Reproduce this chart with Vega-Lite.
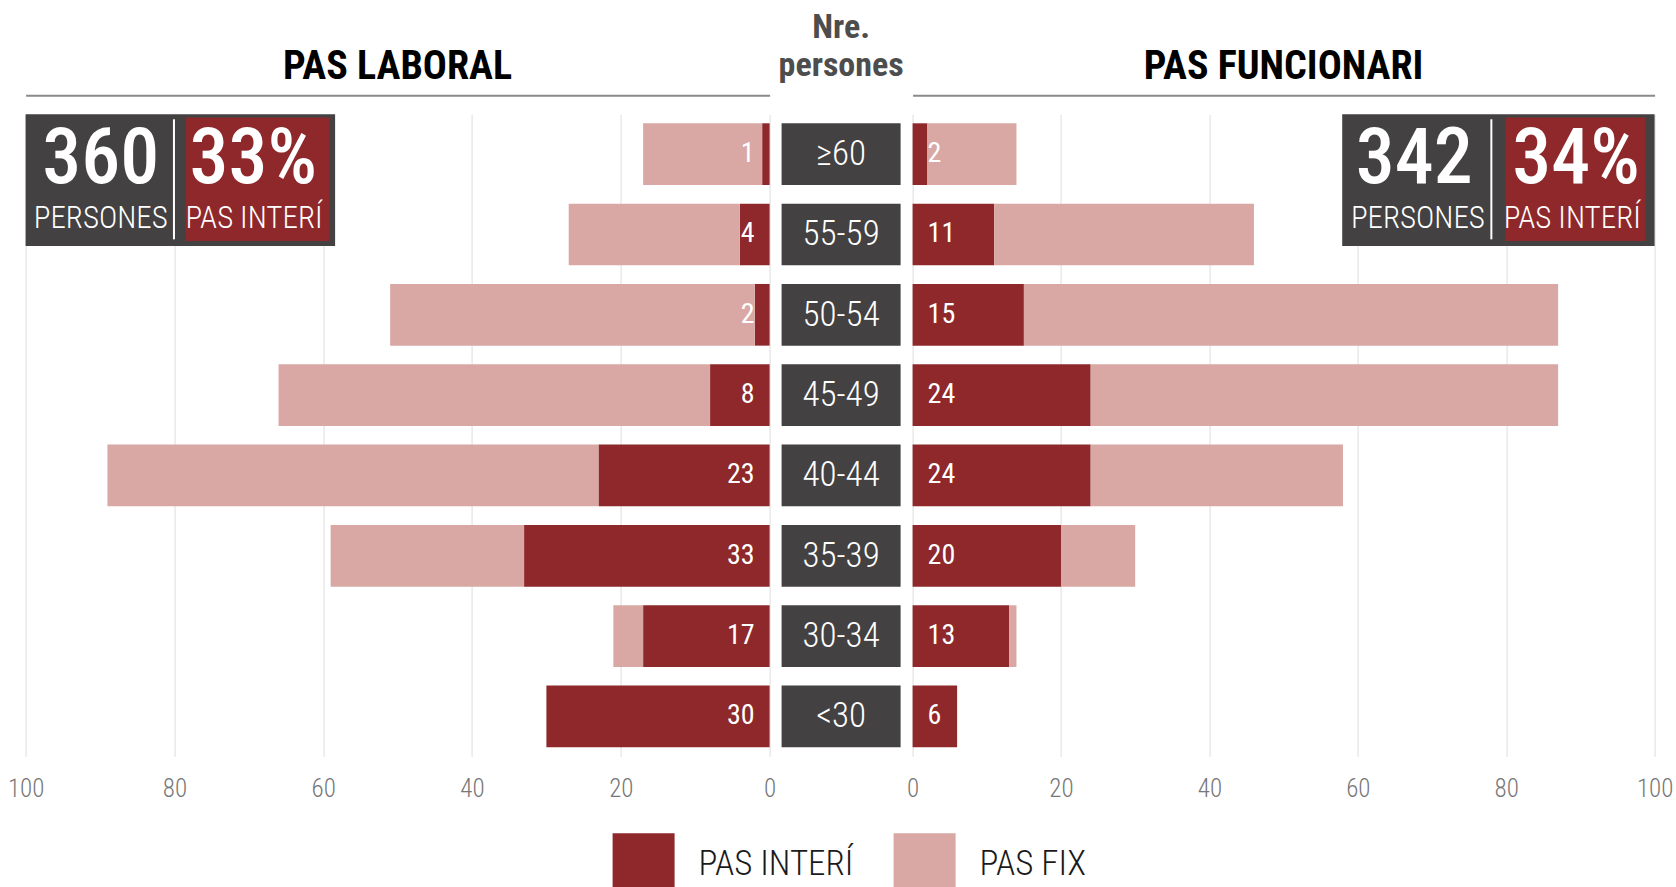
{
  "$schema": "https://vega.github.io/schema/vega-lite/v6.json",
  "background": "white",
  "padding": {"left": 6.6, "top": 10.3, "right": 0, "bottom": 0},
  "bounds": "flush",
  "spacing": 12,
  "datasets": {
    "dades": [
      {"grup": "PAS LABORAL", "edat": "≥60", "tipus": "PAS INTERÍ", "n": 1},
      {"grup": "PAS LABORAL", "edat": "≥60", "tipus": "PAS FIX", "n": 16},
      {"grup": "PAS LABORAL", "edat": "55-59", "tipus": "PAS INTERÍ", "n": 4},
      {"grup": "PAS LABORAL", "edat": "55-59", "tipus": "PAS FIX", "n": 23},
      {"grup": "PAS LABORAL", "edat": "50-54", "tipus": "PAS INTERÍ", "n": 2},
      {"grup": "PAS LABORAL", "edat": "50-54", "tipus": "PAS FIX", "n": 49},
      {"grup": "PAS LABORAL", "edat": "45-49", "tipus": "PAS INTERÍ", "n": 8},
      {"grup": "PAS LABORAL", "edat": "45-49", "tipus": "PAS FIX", "n": 58},
      {"grup": "PAS LABORAL", "edat": "40-44", "tipus": "PAS INTERÍ", "n": 23},
      {"grup": "PAS LABORAL", "edat": "40-44", "tipus": "PAS FIX", "n": 66},
      {"grup": "PAS LABORAL", "edat": "35-39", "tipus": "PAS INTERÍ", "n": 33},
      {"grup": "PAS LABORAL", "edat": "35-39", "tipus": "PAS FIX", "n": 26},
      {"grup": "PAS LABORAL", "edat": "30-34", "tipus": "PAS INTERÍ", "n": 17},
      {"grup": "PAS LABORAL", "edat": "30-34", "tipus": "PAS FIX", "n": 4},
      {"grup": "PAS LABORAL", "edat": "<30", "tipus": "PAS INTERÍ", "n": 30},
      {"grup": "PAS LABORAL", "edat": "<30", "tipus": "PAS FIX", "n": 0},
      {"grup": "PAS FUNCIONARI", "edat": "≥60", "tipus": "PAS INTERÍ", "n": 2},
      {"grup": "PAS FUNCIONARI", "edat": "≥60", "tipus": "PAS FIX", "n": 12},
      {"grup": "PAS FUNCIONARI", "edat": "55-59", "tipus": "PAS INTERÍ", "n": 11},
      {"grup": "PAS FUNCIONARI", "edat": "55-59", "tipus": "PAS FIX", "n": 35},
      {"grup": "PAS FUNCIONARI", "edat": "50-54", "tipus": "PAS INTERÍ", "n": 15},
      {"grup": "PAS FUNCIONARI", "edat": "50-54", "tipus": "PAS FIX", "n": 72},
      {"grup": "PAS FUNCIONARI", "edat": "45-49", "tipus": "PAS INTERÍ", "n": 24},
      {"grup": "PAS FUNCIONARI", "edat": "45-49", "tipus": "PAS FIX", "n": 63},
      {"grup": "PAS FUNCIONARI", "edat": "40-44", "tipus": "PAS INTERÍ", "n": 24},
      {"grup": "PAS FUNCIONARI", "edat": "40-44", "tipus": "PAS FIX", "n": 34},
      {"grup": "PAS FUNCIONARI", "edat": "35-39", "tipus": "PAS INTERÍ", "n": 20},
      {"grup": "PAS FUNCIONARI", "edat": "35-39", "tipus": "PAS FIX", "n": 10},
      {"grup": "PAS FUNCIONARI", "edat": "30-34", "tipus": "PAS INTERÍ", "n": 13},
      {"grup": "PAS FUNCIONARI", "edat": "30-34", "tipus": "PAS FIX", "n": 1},
      {"grup": "PAS FUNCIONARI", "edat": "<30", "tipus": "PAS INTERÍ", "n": 6},
      {"grup": "PAS FUNCIONARI", "edat": "<30", "tipus": "PAS FIX", "n": 0}
    ],
    "resum": [
      {"grup": "PAS LABORAL", "persones": 360, "pct": "33%"},
      {"grup": "PAS FUNCIONARI", "persones": 342, "pct": "34%"}
    ]
  },
  "hconcat": [
    {
      "width": 744,
      "height": 642,
      "title": {"text": "PAS LABORAL", "fontSize": 40, "fontWeight": "bold", "color": "#000000", "anchor": "middle", "frame": "group", "baseline": "bottom", "offset": -31.4},
      "layer": [
        {
          "data": {"name": "dades"},
          "transform": [{"filter": "datum.grup === 'PAS LABORAL'"}],
          "layer": [
            {
              "mark": {"type": "bar"},
              "encoding": {
                "y": {"field": "edat", "type": "nominal", "sort": ["≥60", "55-59", "50-54", "45-49", "40-44", "35-39", "30-34", "<30"], "axis": null, "scale": {"paddingInner": 0.232, "paddingOuter": 0.112}},
                "x": {"field": "n", "type": "quantitative", "stack": "zero", "scale": {"domain": [0, 100], "reverse": true, "nice": false}, "axis": {"orient": "bottom", "values": [0, 20, 40, 60, 80, 100], "grid": true, "gridColor": "#dddddd", "domain": false, "ticks": false, "labelFontSize": 25, "labelColor": "#777777", "labelPadding": 20, "labelFlush": false, "title": null, "labelFontWeight": 300}},
                "color": {"field": "tipus", "type": "nominal", "scale": {"domain": ["PAS INTERÍ", "PAS FIX"], "range": ["#8E282B", "#D9A8A4"]}, "legend": {"orient": "none", "legendX": 587, "legendY": 719, "direction": "horizontal", "title": null, "symbolType": "square", "symbolSize": 3844, "symbolStrokeWidth": 0, "symbolOpacity": 1, "labelFontSize": 35, "labelFontWeight": 300, "labelColor": "#1a1a1a", "labelOffset": 24, "columnPadding": 40, "labelLimit": 0}},
                "order": {"field": "tipus", "sort": "descending"}
              }
            },
            {
              "transform": [{"filter": "datum.tipus === 'PAS INTERÍ'"}],
              "mark": {"type": "text", "align": "right", "baseline": "middle", "dx": -15, "color": "#ffffff", "fontSize": 28, "fontWeight": 400},
              "encoding": {
                "y": {"field": "edat", "type": "nominal", "sort": ["≥60", "55-59", "50-54", "45-49", "40-44", "35-39", "30-34", "<30"]},
                "x": {"datum": 0, "type": "quantitative", "axis": {"orient": "top", "domain": true, "domainColor": "#8a8a8a", "domainWidth": 2, "labels": false, "ticks": false, "grid": false, "title": null, "offset": 19}},
                "text": {"field": "n", "type": "quantitative"}
              }
            }
          ],
          "resolve": {"axis": {"x": "independent"}}
        },
        {
          "data": {"name": "resum"},
          "transform": [{"filter": "datum.grup === 'PAS LABORAL'"}],
          "layer": [
            {
              "mark": {"type": "rect", "color": "#434142"},
              "encoding": {
                "x": {"datum": 100, "type": "quantitative", "axis": null},
                "x2": {"datum": 58.4},
                "y": {"datum": 0, "type": "quantitative", "scale": {"domain": [0, 8], "reverse": true, "nice": false, "zero": false}, "axis": null},
                "y2": {"datum": 1.64}
              }
            },
            {
              "mark": {"type": "rect", "color": "#8E282B"},
              "encoding": {
                "x": {"datum": 78.5, "type": "quantitative", "axis": null},
                "x2": {"datum": 59.1},
                "y": {"datum": 0.041, "type": "quantitative", "axis": null},
                "y2": {"datum": 1.579}
              }
            },
            {
              "mark": {"type": "rule", "color": "#ffffff", "strokeWidth": 2},
              "encoding": {
                "x": {"datum": 80.06, "type": "quantitative", "axis": null},
                "y": {"datum": 0.062, "type": "quantitative", "axis": null},
                "y2": {"datum": 1.558}
              }
            },
            {
              "mark": {"type": "text", "color": "#ffffff", "fontSize": 78, "fontWeight": 500, "align": "center", "baseline": "alphabetic"},
              "encoding": {
                "x": {"datum": 89.9, "type": "quantitative", "axis": null},
                "y": {"datum": 0.851, "type": "quantitative", "axis": null},
                "text": {"field": "persones", "type": "quantitative"}
              }
            },
            {
              "mark": {"type": "text", "color": "#ffffff", "fontSize": 31, "fontWeight": 300, "align": "center", "baseline": "alphabetic"},
              "encoding": {
                "x": {"datum": 89.9, "type": "quantitative", "axis": null},
                "y": {"datum": 1.412, "type": "quantitative", "axis": null},
                "text": {"value": "PERSONES"}
              }
            },
            {
              "mark": {"type": "text", "color": "#ffffff", "fontSize": 78, "fontWeight": 500, "align": "center", "baseline": "alphabetic"},
              "encoding": {
                "x": {"datum": 69.4, "type": "quantitative", "axis": null},
                "y": {"datum": 0.851, "type": "quantitative", "axis": null},
                "text": {"field": "pct", "type": "nominal"}
              }
            },
            {
              "mark": {"type": "text", "color": "#ffffff", "fontSize": 31, "fontWeight": 300, "align": "center", "baseline": "alphabetic"},
              "encoding": {
                "x": {"datum": 69.3, "type": "quantitative", "axis": null},
                "y": {"datum": 1.412, "type": "quantitative", "axis": null},
                "text": {"value": "PAS INTERÍ"}
              }
            }
          ]
        }
      ],
      "resolve": {"scale": {"y": "independent"}, "axis": {"x": "independent"}}
    },
    {
      "width": 119,
      "height": 642,
      "title": {"text": ["Nre.", "persones"], "fontSize": 34, "fontWeight": "bold", "color": "#4d4d4d", "anchor": "middle", "frame": "group", "baseline": "bottom", "lineHeight": 38, "offset": -2.5},
      "data": {"name": "dades"},
      "transform": [{"filter": "datum.grup === 'PAS LABORAL' && datum.tipus === 'PAS INTERÍ'"}],
      "layer": [
        {
          "mark": {"type": "rect", "color": "#434142"},
          "encoding": {
            "y": {"field": "edat", "type": "nominal", "sort": ["≥60", "55-59", "50-54", "45-49", "40-44", "35-39", "30-34", "<30"], "axis": null, "scale": {"paddingInner": 0.232, "paddingOuter": 0.112}},
            "x": {"datum": 0, "type": "quantitative", "scale": {"domain": [0, 1], "nice": false, "zero": false}, "axis": null},
            "x2": {"datum": 1}
          }
        },
        {
          "mark": {"type": "text", "color": "#ffffff", "fontSize": 35, "fontWeight": 300, "align": "center", "baseline": "middle"},
          "encoding": {
            "y": {"field": "edat", "type": "nominal", "sort": ["≥60", "55-59", "50-54", "45-49", "40-44", "35-39", "30-34", "<30"], "axis": null},
            "x": {"datum": 0.5, "type": "quantitative", "axis": null},
            "text": {"field": "edat", "type": "nominal"}
          }
        }
      ]
    },
    {
      "width": 742,
      "height": 642,
      "title": {"text": "PAS FUNCIONARI", "fontSize": 40, "fontWeight": "bold", "color": "#000000", "anchor": "middle", "frame": "group", "baseline": "bottom", "offset": -31.4},
      "layer": [
        {
          "data": {"name": "dades"},
          "transform": [{"filter": "datum.grup === 'PAS FUNCIONARI'"}],
          "layer": [
            {
              "mark": {"type": "bar"},
              "encoding": {
                "y": {"field": "edat", "type": "nominal", "sort": ["≥60", "55-59", "50-54", "45-49", "40-44", "35-39", "30-34", "<30"], "axis": null, "scale": {"paddingInner": 0.232, "paddingOuter": 0.112}},
                "x": {"field": "n", "type": "quantitative", "stack": "zero", "scale": {"domain": [0, 100], "nice": false}, "axis": {"orient": "bottom", "values": [0, 20, 40, 60, 80, 100], "grid": true, "gridColor": "#dddddd", "domain": false, "ticks": false, "labelFontSize": 25, "labelColor": "#777777", "labelPadding": 20, "labelFlush": false, "title": null, "labelFontWeight": 300}},
                "color": {"field": "tipus", "type": "nominal", "scale": {"domain": ["PAS INTERÍ", "PAS FIX"], "range": ["#8E282B", "#D9A8A4"]}, "legend": null},
                "order": {"field": "tipus", "sort": "descending"}
              }
            },
            {
              "transform": [{"filter": "datum.tipus === 'PAS INTERÍ'"}],
              "mark": {"type": "text", "align": "left", "baseline": "middle", "dx": 15, "color": "#ffffff", "fontSize": 28, "fontWeight": 400},
              "encoding": {
                "y": {"field": "edat", "type": "nominal", "sort": ["≥60", "55-59", "50-54", "45-49", "40-44", "35-39", "30-34", "<30"]},
                "x": {"datum": 0, "type": "quantitative", "axis": {"orient": "top", "domain": true, "domainColor": "#8a8a8a", "domainWidth": 2, "labels": false, "ticks": false, "grid": false, "title": null, "offset": 19}},
                "text": {"field": "n", "type": "quantitative"}
              }
            }
          ],
          "resolve": {"axis": {"x": "independent"}}
        },
        {
          "data": {"name": "resum"},
          "transform": [{"filter": "datum.grup === 'PAS FUNCIONARI'"}],
          "layer": [
            {
              "mark": {"type": "rect", "color": "#434142"},
              "encoding": {
                "x": {"datum": 57.9, "type": "quantitative", "axis": null},
                "x2": {"datum": 100},
                "y": {"datum": 0, "type": "quantitative", "scale": {"domain": [0, 8], "reverse": true, "nice": false, "zero": false}, "axis": null},
                "y2": {"datum": 1.64}
              }
            },
            {
              "mark": {"type": "rect", "color": "#8E282B"},
              "encoding": {
                "x": {"datum": 79.9, "type": "quantitative", "axis": null},
                "x2": {"datum": 98.8},
                "y": {"datum": 0.041, "type": "quantitative", "axis": null},
                "y2": {"datum": 1.579}
              }
            },
            {
              "mark": {"type": "rule", "color": "#ffffff", "strokeWidth": 2},
              "encoding": {
                "x": {"datum": 78.0, "type": "quantitative", "axis": null},
                "y": {"datum": 0.062, "type": "quantitative", "axis": null},
                "y2": {"datum": 1.558}
              }
            },
            {
              "mark": {"type": "text", "color": "#ffffff", "fontSize": 78, "fontWeight": 500, "align": "center", "baseline": "alphabetic"},
              "encoding": {
                "x": {"datum": 67.6, "type": "quantitative", "axis": null},
                "y": {"datum": 0.851, "type": "quantitative", "axis": null},
                "text": {"field": "persones", "type": "quantitative"}
              }
            },
            {
              "mark": {"type": "text", "color": "#ffffff", "fontSize": 31, "fontWeight": 300, "align": "center", "baseline": "alphabetic"},
              "encoding": {
                "x": {"datum": 68.1, "type": "quantitative", "axis": null},
                "y": {"datum": 1.412, "type": "quantitative", "axis": null},
                "text": {"value": "PERSONES"}
              }
            },
            {
              "mark": {"type": "text", "color": "#ffffff", "fontSize": 78, "fontWeight": 500, "align": "center", "baseline": "alphabetic"},
              "encoding": {
                "x": {"datum": 89.4, "type": "quantitative", "axis": null},
                "y": {"datum": 0.851, "type": "quantitative", "axis": null},
                "text": {"field": "pct", "type": "nominal"}
              }
            },
            {
              "mark": {"type": "text", "color": "#ffffff", "fontSize": 31, "fontWeight": 300, "align": "center", "baseline": "alphabetic"},
              "encoding": {
                "x": {"datum": 88.9, "type": "quantitative", "axis": null},
                "y": {"datum": 1.412, "type": "quantitative", "axis": null},
                "text": {"value": "PAS INTERÍ"}
              }
            }
          ]
        }
      ],
      "resolve": {"scale": {"y": "independent"}, "axis": {"x": "independent"}}
    }
  ],
  "config": {
    "view": {"stroke": null},
    "font": "Roboto Condensed, Liberation Sans Narrow, DejaVu Sans Condensed, sans-serif"
  }
}
